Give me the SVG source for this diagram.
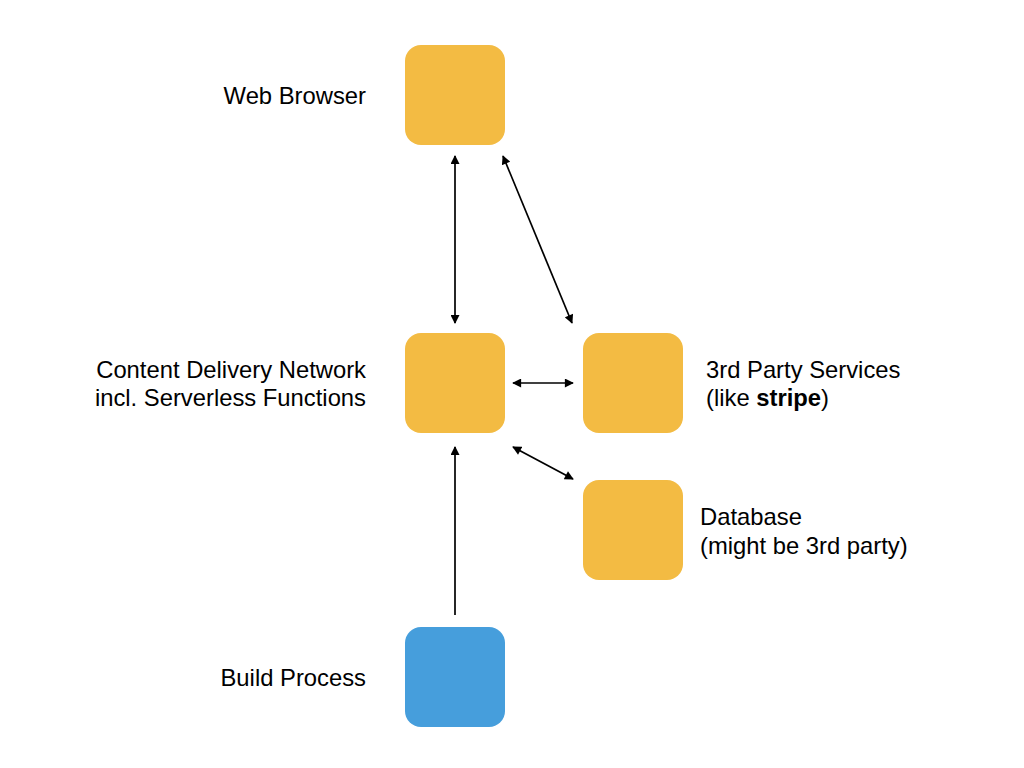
<svg xmlns="http://www.w3.org/2000/svg" width="1024" height="768" viewBox="0 0 1024 768">
<style>
.y{fill:#F3BB43}
.b{fill:#469EDC}
text{font-family:"Liberation Sans",Arial,sans-serif;font-size:23.8px;fill:#000}
.r{text-anchor:end}
.c line{stroke:#000;stroke-width:1.7}
</style>
<defs>
<marker id="ah" viewBox="0 0 10 10" refX="9" refY="5" markerWidth="10" markerHeight="9" markerUnits="userSpaceOnUse" orient="auto-start-reverse">
<path d="M0,0 L10,5 L0,10 Z" fill="#000"/>
</marker>
</defs>
<rect width="1024" height="768" fill="#fff"/>
<g id="web">
<rect class="y" x="405" y="45" width="100" height="100" rx="16"/>
<text class="r" x="366" y="104">Web Browser</text>
</g>
<g id="cdn">
<rect class="y" x="405" y="333" width="100" height="100" rx="16"/>
<text class="r" x="366" y="378">Content Delivery Network</text>
<text class="r" x="366" y="406">incl. Serverless Functions</text>
</g>
<g id="third">
<rect class="y" x="583" y="333" width="100" height="100" rx="16"/>
<text x="706" y="378">3rd Party Services</text>
<text x="706" y="406">(like <tspan font-weight="bold">stripe</tspan>)</text>
</g>
<g id="db">
<rect class="y" x="583" y="480" width="100" height="100" rx="16"/>
<text x="700" y="525">Database</text>
<text x="700" y="554">(might be 3rd party)</text>
</g>
<g id="build">
<rect class="b" x="405" y="627" width="100" height="100" rx="16"/>
<text class="r" x="366" y="686">Build Process</text>
</g>
<g class="c" id="connectors">
<line x1="455" y1="156" x2="455" y2="323" marker-start="url(#ah)" marker-end="url(#ah)"/>
<line x1="503" y1="156" x2="572" y2="323" marker-start="url(#ah)" marker-end="url(#ah)"/>
<line x1="513" y1="383" x2="573" y2="383" marker-start="url(#ah)" marker-end="url(#ah)"/>
<line x1="513" y1="447" x2="573" y2="479" marker-start="url(#ah)" marker-end="url(#ah)"/>
<line x1="455" y1="615" x2="455" y2="447" marker-end="url(#ah)"/>
</g>
</svg>
